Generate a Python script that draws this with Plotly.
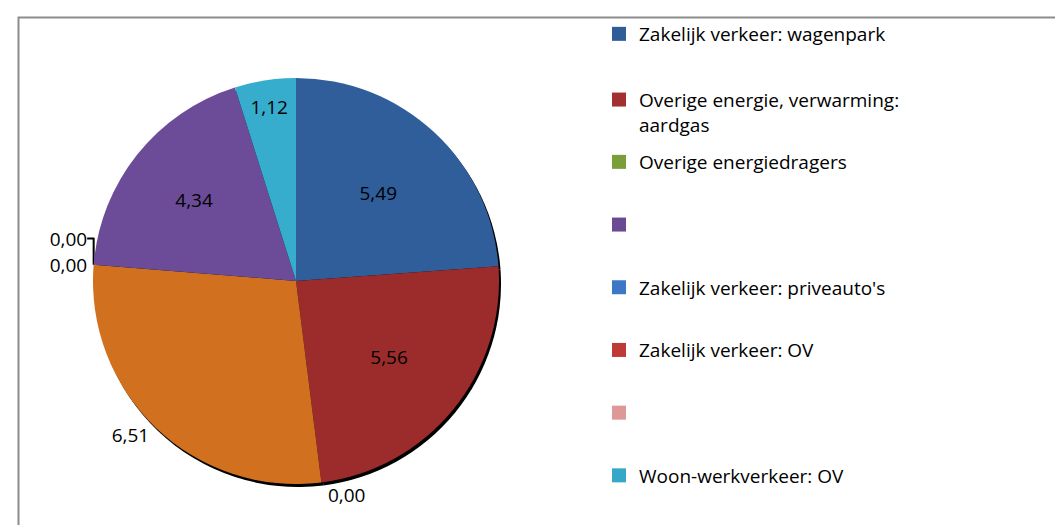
import plotly.graph_objects as go

# ---- data ----
slice_labels = ["Zakelijk verkeer: wagenpark", "Overige energie, verwarming: aardgas",
                "Overige energiedragers", "Zakelijk verkeer: (overig)", "Zakelijk verkeer: priveauto's",
                "Zakelijk verkeer: OV", "(leeg)", "Woon-werkverkeer: OV"]
slice_values = [5.49, 5.56, 0.00, 6.51, 0.00, 0.00, 4.34, 1.12]
slice_colors = ["#2F5E9B", "#9C2C2C", "#7FA33A", "#D1701E", "#3C78C6", "#BF3A36", "#6C4C98", "#36ADCD"]
slice_textpos = ["inside", "inside", "outside", "outside", "outside", "outside", "inside", "inside"]

legend_names = ["Zakelijk verkeer: wagenpark", "Overige energie, verwarming:<br>aardgas",
                "Overige energiedragers", " ", "Zakelijk verkeer: priveauto's",
                "Zakelijk verkeer: OV", " ", "Woon-werkverkeer: OV"]
legend_colors = ["#2F5D98", "#A33030", "#7A9E38", "#6A4A93", "#3C78C6", "#BF3A36", "#DE9898", "#35A8C8"]

W, H = 1063, 525
FONT = "Open Sans"

# pie geometry in pixels (center / radius)
cx, cy, R = 288, 273, 203
def dom(dx=0, dy=0):
    return dict(x=[(cx - R + dx) / W, (cx + R + dx) / W],
                y=[(H - (cy + R + dy)) / H, (H - (cy - R + dy)) / H])

fig = go.Figure()

# shadow pie
fig.add_trace(go.Pie(
    labels=slice_labels, values=slice_values, sort=False, direction="clockwise",
    marker=dict(colors=["#000000"] * len(slice_values), line=dict(width=0)),
    textinfo="none", hoverinfo="skip", showlegend=False, domain=dom(2, 3),
))

fig.add_trace(go.Pie(
    labels=slice_labels, values=slice_values, sort=False, direction="clockwise",
    marker=dict(colors=slice_colors, line=dict(width=0)),
    texttemplate="%{value:.2f}", textposition=slice_textpos,
    insidetextfont=dict(color="#000000", size=19, family=FONT),
    outsidetextfont=dict(color="#000000", size=19, family=FONT),
    insidetextorientation="horizontal",
    showlegend=False, domain=dom(),
))

# legend entries
for i, (nm, col) in enumerate(zip(legend_names, legend_colors)):
    fig.add_trace(go.Scatter(
        x=[None], y=[None], mode="markers", name=nm,
        marker=dict(symbol="square", size=14, color=col),
        legendgroup=f"g{i}", legend="legend" if i < 2 else "legend2",
    ))

legend_common = dict(font=dict(family=FONT, size=19, color="#000000"),
                     bgcolor="rgba(0,0,0,0)", valign="top",
                     xanchor="left", yanchor="top", itemwidth=30)
fig.update_layout(
    width=W, height=H, margin=dict(l=0, r=0, t=0, b=0),
    paper_bgcolor="#FFFFFF", plot_bgcolor="#FFFFFF",
    separators=",.",
    xaxis=dict(visible=False), yaxis=dict(visible=False),
    legend=dict(x=591 / W, y=1 - 7 / H, tracegroupgap=38, **legend_common),
    legend2=dict(x=591 / W, y=1 - 135 / H, tracegroupgap=35, **legend_common),
    shapes=[dict(type="rect", xref="paper", yref="paper",
                 x0=10.5 / W, x1=1.02, y0=-0.02, y1=1 - 9.5 / H,
                 line=dict(color="#8C8C8C", width=2), fillcolor="rgba(0,0,0,0)", layer="below")],
)

fig.write_html("out.html")
